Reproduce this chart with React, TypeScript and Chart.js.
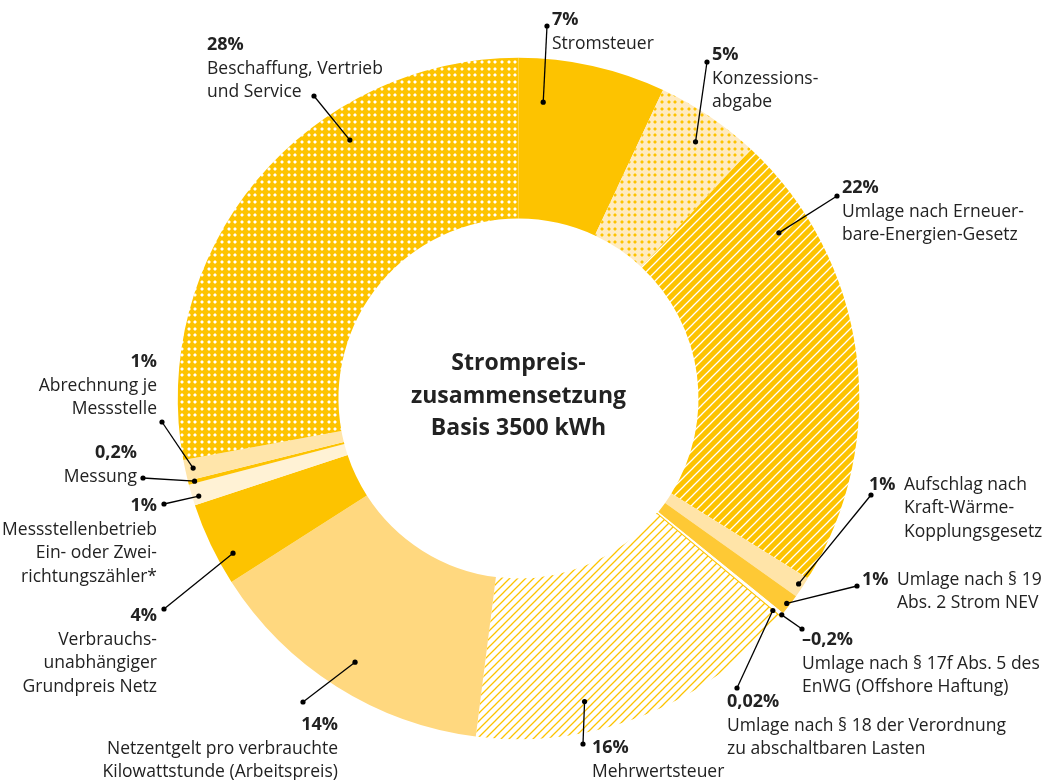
import React, { useEffect, useRef } from "react";
import { Chart, registerables } from "chart.js";

Chart.register(...registerables);

// ---------- data ----------
const categories = [
  "Stromsteuer",
  "Konzessionsabgabe",
  "Umlage nach Erneuerbare-Energien-Gesetz",
  "Aufschlag nach Kraft-Wärme-Kopplungsgesetz",
  "Umlage nach § 19 Abs. 2 Strom NEV",
  "Umlage nach § 17f Abs. 5 des EnWG (Offshore Haftung)",
  "Umlage nach § 18 der Verordnung zu abschaltbaren Lasten",
  "Mehrwertsteuer",
  "Netzentgelt pro verbrauchte Kilowattstunde (Arbeitspreis)",
  "Verbrauchsunabhängiger Grundpreis Netz",
  "Messstellenbetrieb Ein- oder Zweirichtungszähler*",
  "Messung",
  "Abrechnung je Messstelle",
  "Beschaffung, Vertrieb und Service",
];
const shares = [7, 5, 22, 1, 1, -0.2, 0.02, 16, 14, 4, 1, 0.2, 1, 28];
const pctLabels = ["7%", "5%", "22%", "1%", "1%", "–0,2%", "0,02%", "16%", "14%", "4%", "1%", "0,2%", "1%", "28%"];
const labelLines = [
  ["Stromsteuer"],
  ["Konzessions-", "abgabe"],
  ["Umlage nach Erneuer-", "bare-Energien-Gesetz"],
  ["Aufschlag nach", "Kraft-Wärme-", "Kopplungsgesetz"],
  ["Umlage nach § 19", "Abs. 2 Strom NEV"],
  ["Umlage nach § 17f Abs. 5 des", "EnWG (Offshore Haftung)"],
  ["Umlage nach § 18 der Verordnung", "zu abschaltbaren Lasten"],
  ["Mehrwertsteuer"],
  ["Netzentgelt pro verbrauchte", "Kilowattstunde (Arbeitspreis)"],
  ["Verbrauchs-", "unabhängiger", "Grundpreis Netz"],
  ["Messstellenbetrieb", "Ein- oder Zwei-", "richtungszähler*"],
  ["Messung"],
  ["Abrechnung je", "Messstelle"],
  ["Beschaffung, Vertrieb", "und Service"],
];
const centerTitle = ["Strompreis-", "zusammensetzung", "Basis 3500 kWh"];

// ---------- styles / layout ----------
const YELLOW = "#FDC300";
const fillKinds = [
  "solid", "dotsLight", "stripesWhite", "kwk", "orange", "white", "solid",
  "stripesYellow", "netz", "solid", "cream", "solid", "abrechnung", "dotsWhite",
];
// anchor inside slice: [fraction of angle, fraction of ring thickness]
const anchorFrac = [
  [0.19, 0.73], [0.53, 0.82], [0.184, 0.8], [0.45, 0.97], [0.53, 0.98], [0.5, 1.0], [0.5, 0.94],
  [0.66, 0.81], [0.49, 0.81], [0.29, 0.9], [0.36, 0.96], [0.5, 0.96], [0.53, 0.95], [0.67, 0.8],
];
type LP = { ox: number; oy: number; tx: number; ty: number; align: "left" | "right"; inlineX?: number };
const labelPos: LP[] = [
  { ox: 547, oy: 26, tx: 552, ty: 20, align: "left" },
  { ox: 707, oy: 62, tx: 712, ty: 55, align: "left" },
  { ox: 837, oy: 196, tx: 842, ty: 188, align: "left" },
  { ox: 871, oy: 495, tx: 869, ty: 485, align: "left", inlineX: 904 },
  { ox: 857, oy: 586, tx: 862, ty: 580, align: "left", inlineX: 897 },
  { ox: 802, oy: 629, tx: 802, ty: 640, align: "left" },
  { ox: 737, oy: 688, tx: 727, ty: 702, align: "left" },
  { ox: 583, oy: 744, tx: 592, ty: 748, align: "left" },
  { ox: 303, oy: 702, tx: 338, ty: 725, align: "right" },
  { ox: 164, oy: 609, tx: 157, ty: 616, align: "right" },
  { ox: 164, oy: 504, tx: 157, ty: 506, align: "right" },
  { ox: 143, oy: 478, tx: 137, ty: 453, align: "right" },
  { ox: 162, oy: 422, tx: 157, ty: 362, align: "right" },
  { ox: 314, oy: 96, tx: 207, ty: 45, align: "left" },
];
const FONT = "'Open Sans', 'Noto Sans', sans-serif";
const TEXT_COLOR = "#222222";

export default function App() {
  const ref = useRef<HTMLCanvasElement>(null);

  useEffect(() => {
    const canvas = ref.current!;
    const ctx = canvas.getContext("2d")!;

    const tile = (w: number, h: number, draw: (t: CanvasRenderingContext2D) => void) => {
      const c = document.createElement("canvas");
      c.width = w;
      c.height = h;
      const t = c.getContext("2d")!;
      draw(t);
      return ctx.createPattern(c, "repeat")!;
    };
    const dots = (bg: string, fg: string) =>
      tile(20, 20, (t) => {
        t.fillStyle = bg;
        t.fillRect(0, 0, 20, 20);
        t.fillStyle = fg;
        const p = [1, 8, 14];
        for (const x of p)
          for (const y of p) {
            t.globalAlpha = 1;
            t.fillRect(x, y, 2, 2);
            t.globalAlpha = 0.45;
            t.fillRect(x - 1, y, 1, 2);
            t.fillRect(x + 2, y, 1, 2);
            t.fillRect(x, y - 1, 2, 1);
            t.fillRect(x, y + 2, 2, 1);
          }
        t.globalAlpha = 1;
      });
    const stripes = (bg: string, fg: string, s: number, lw: number) =>
      tile(s, s, (t) => {
        t.fillStyle = bg;
        t.fillRect(0, 0, s, s);
        t.strokeStyle = fg;
        t.lineWidth = lw;
        t.beginPath();
        for (const c of [0, s, 2 * s]) {
          t.moveTo(c - 2 * s, 2 * s);
          t.lineTo(c + 2 * s, -2 * s);
        }
        t.stroke();
      });

    const fillMap: Record<string, any> = {
      solid: YELLOW,
      dotsLight: dots("#FFEBC1", YELLOW),
      dotsWhite: dots(YELLOW, "#FFFFFF"),
      stripesWhite: stripes(YELLOW, "#FFFFFF", 9, 1.3),
      stripesYellow: stripes("#FFFFFF", YELLOW, 8, 1.3),
      kwk: "#FFE4A8",
      orange: "#FEC935",
      white: "#FFFFFF",
      netz: "#FFD87F",
      cream: "#FFF2D5",
      abrechnung: "#FFE5AA",
    };
    const fills = fillKinds.map((k) => fillMap[k]);
    const borderWidths = shares.map((v) => (Math.abs(v) < 0.1 ? 1.5 : 0));

    const labelPlugin = {
      id: "leaderLabels",
      afterDraw(chart: any) {
        const c = chart.ctx as CanvasRenderingContext2D;
        const meta = chart.getDatasetMeta(0);
        c.save();
        // center title
        const a0 = meta.data[0].getProps(["x", "y"], true);
        c.fillStyle = TEXT_COLOR;
        c.textAlign = "center";
        c.textBaseline = "middle";
        c.font = `bold 23px ${FONT}`;
        centerTitle.forEach((s, i) => c.fillText(s, a0.x, a0.y - 35 + i * 32.5));

        meta.data.forEach((arc: any, i: number) => {
          const p = arc.getProps(["x", "y", "startAngle", "endAngle", "innerRadius", "outerRadius"], true);
          const [fa, fr] = anchorFrac[i];
          const ang = p.startAngle + fa * (p.endAngle - p.startAngle);
          const r = p.innerRadius + fr * (p.outerRadius - p.innerRadius);
          const ix = p.x + r * Math.cos(ang);
          const iy = p.y + r * Math.sin(ang);
          const L = labelPos[i];
          c.strokeStyle = "#000";
          c.lineWidth = 1.3;
          c.beginPath();
          c.moveTo(ix, iy);
          c.lineTo(L.ox, L.oy);
          c.stroke();
          c.fillStyle = "#000";
          for (const [dx, dy] of [[ix, iy], [L.ox, L.oy]]) {
            c.beginPath();
            c.arc(dx, dy, 2.6, 0, Math.PI * 2);
            c.fill();
          }
          // text
          c.fillStyle = TEXT_COLOR;
          c.textBaseline = "middle";
          c.textAlign = L.align;
          c.font = `bold 18px ${FONT}`;
          c.fillText(pctLabels[i], L.tx, L.ty);
          c.font = `17.5px ${FONT}`;
          const lines = labelLines[i];
          if (L.inlineX !== undefined) {
            lines.forEach((s, k) => c.fillText(s, L.inlineX!, L.ty + k * 23.5));
          } else {
            lines.forEach((s, k) => c.fillText(s, L.tx, L.ty + 24 + k * 23.5));
          }
        });
        c.restore();
      },
    };

    const chart = new Chart(canvas, {
      type: "doughnut",
      data: {
        labels: categories,
        datasets: [
          {
            data: shares.map((v) => Math.abs(v)),
            backgroundColor: fills,
            borderWidth: borderWidths,
            borderColor: YELLOW,
            hoverOffset: 0,
          } as any,
        ],
      },
      options: {
        responsive: false,
        animation: false,
        events: [],
        cutout: 180,
        layout: { padding: { left: 177, right: 190, top: 57, bottom: 40 } },
        plugins: { legend: { display: false }, tooltip: { enabled: false } },
      },
      plugins: [labelPlugin],
    });
    return () => chart.destroy();
  }, []);

  return (
    <div style={{ position: "absolute", left: 0, top: 0, width: 1050, height: 780, background: "#fff" }}>
      <canvas ref={ref} width={1050} height={780} style={{ width: 1050, height: 780, display: "block" }} />
    </div>
  );
}
